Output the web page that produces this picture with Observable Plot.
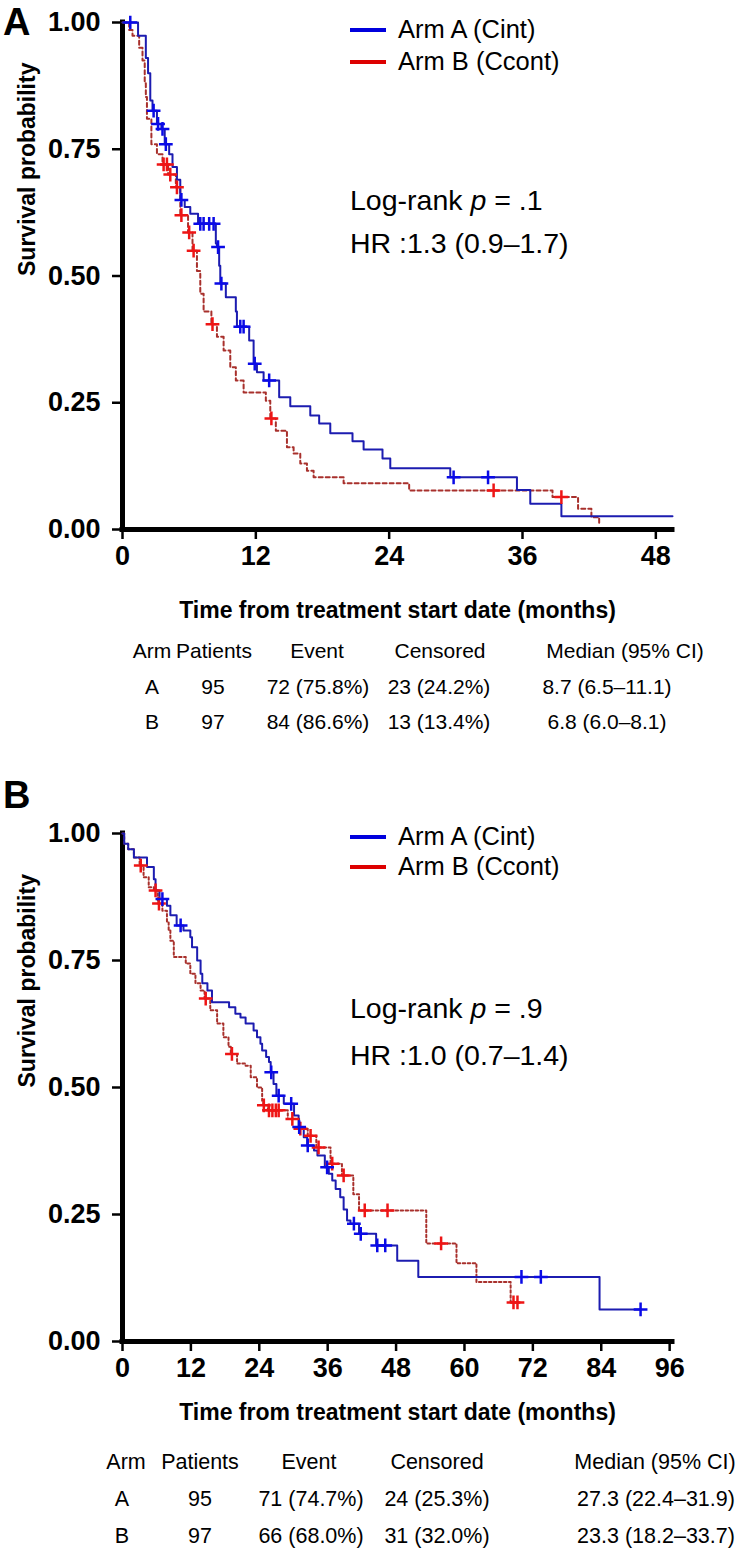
<!DOCTYPE html>
<html><head><meta charset="utf-8">
<script src="https://cdn.jsdelivr.net/npm/d3@7"></script>
<script src="https://cdn.jsdelivr.net/npm/@observablehq/plot@0.6"></script>
<style>
body{margin:0;background:#fff;font-family:"Liberation Sans",Arial,Helvetica,sans-serif;}
#root{position:relative;width:747px;height:1551px;overflow:hidden;background:#fff;}
.abs{position:absolute;white-space:nowrap;}
.letter{font-weight:bold;font-size:38px;line-height:1.1;}
.cell{transform:translate(-50%,-50%);line-height:1;}
.leg{font-size:25.5px;line-height:1;transform:translateY(-50%);}
.sw{position:absolute;height:4px;transform:translateY(-50%);}
.stat{font-size:28.5px;line-height:1;transform:translateY(-50%);}
</style></head><body><div id="root"></div>
<script>
// ---------- data ----------
const yTicks = [0, 0.25, 0.5, 0.75, 1];
const xTicksA = [0, 12, 24, 36, 48];
const xTicksB = [0, 12, 24, 36, 48, 60, 72, 84, 96];
const armNames = ["Arm A (Cint)", "Arm B (Ccont)"];

// Panel A (48 months)
const tA_armA = [0,1.4,2.1,2.3,2.5,2.7,3.1,3.5,3.8,4.2,4.5,4.9,5.2,5.6,6.1,6.8,8.4,8.5,8.7,8.8,9.3,10.2,10.3,11.4,11.8,12.1,12.7,14.1,15.1,16.9,17.7,18.7,20.7,21.7,23.4,24.1,29.5,35.5,36.7,39.5,49.5];
const sA_armA = [1,0.974,0.93,0.90,0.846,0.826,0.80,0.79,0.76,0.74,0.715,0.69,0.65,0.636,0.623,0.603,0.564,0.557,0.52,0.485,0.458,0.43,0.40,0.373,0.327,0.31,0.294,0.261,0.243,0.225,0.209,0.19,0.174,0.158,0.14,0.121,0.103,0.078,0.051,0.026,0.026];
const cA_armA = [0.7,2.8,3.2,3.6,3.9,5.3,7.0,7.3,7.8,8.2,8.6,8.9,10.6,10.9,11.9,13.2,29.8,32.9];

const tA_armB = [0,0.6,0.9,1.5,1.8,2.0,2.1,2.2,2.6,3.1,3.6,4.1,4.8,5.2,5.9,6.3,6.7,7.0,7.3,8.0,8.5,9.1,9.7,10.2,10.9,12.9,13.3,13.8,14.8,15.4,16.0,16.6,17.2,19.9,25.8,38.7,41.0,42.2,42.9,43.0];
const sA_armB = [1,0.985,0.974,0.95,0.925,0.88,0.853,0.81,0.76,0.74,0.72,0.70,0.675,0.62,0.586,0.55,0.51,0.465,0.43,0.405,0.38,0.353,0.32,0.294,0.27,0.254,0.219,0.195,0.162,0.15,0.13,0.116,0.103,0.091,0.077,0.064,0.041,0.024,0.012,0.012];
const cA_armB = [3.7,4.0,4.3,4.9,5.3,6.0,6.4,8.1,13.4,33.4,39.5];

// Panel B (96 months)
const tB_armA = [0,0.3,1.0,2.0,4.3,5.5,5.8,6.5,7.8,8.4,9.5,10.7,11.9,12.2,13.1,13.7,14.0,14.9,15.7,18.7,19.8,20.7,21.6,23.0,23.6,24.2,24.5,25.2,25.7,26.0,26.5,27.0,28.3,30.1,30.9,31.8,32.4,33.6,34.2,35.5,36.2,36.8,37.4,38.2,38.8,39.4,40.0,41.5,44.5,48.2,51.9,83.7,90.9];
const sB_armA = [1,0.98,0.969,0.953,0.934,0.91,0.888,0.871,0.858,0.839,0.819,0.809,0.796,0.776,0.75,0.724,0.705,0.691,0.668,0.658,0.645,0.638,0.626,0.612,0.599,0.586,0.573,0.56,0.55,0.53,0.507,0.484,0.468,0.445,0.422,0.402,0.386,0.376,0.366,0.343,0.33,0.317,0.30,0.284,0.26,0.238,0.232,0.212,0.189,0.159,0.127,0.063,0.063];
const cB_armA = [7.0,10.2,26.1,27.4,29.6,31.0,32.5,35.9,40.6,41.8,44.7,46.1,70.0,73.4,90.9];

const tB_armB = [0,0.3,1.0,2.0,3.0,3.7,4.6,5.5,6.2,7.0,7.8,8.1,8.4,9.0,11.1,11.9,12.8,13.7,14.4,15.4,16.6,17.7,18.6,19.0,20.1,21.6,22.5,23.6,24.5,24.7,25.5,29.0,31.0,32.5,34.0,36.5,38.5,40.5,41.5,53.3,58.6,62.1,68.1,69.3];
const sB_armB = [1,0.98,0.969,0.953,0.937,0.914,0.894,0.888,0.862,0.848,0.825,0.809,0.789,0.757,0.744,0.724,0.705,0.691,0.675,0.652,0.626,0.599,0.58,0.566,0.547,0.543,0.52,0.50,0.474,0.465,0.455,0.438,0.419,0.405,0.382,0.35,0.327,0.29,0.258,0.193,0.154,0.117,0.077,0.077];
const cB_armB = [3.2,5.8,6.4,14.6,19.2,24.8,25.7,26.3,26.9,27.4,29.8,31.2,33.0,34.4,36.8,38.8,42.5,46.5,55.9,68.6,69.3];

// stats and tables
const statsA = ["Log-rank ", "p", " = .1", "HR :1.3 (0.9–1.7)"];
const statsB = ["Log-rank ", "p", " = .9", "HR :1.0 (0.7–1.4)"];
const tableHeader = ["Arm","Patients","Event","Censored","Median (95% CI)"];
const tableA = [["A","95","72 (75.8%)","23 (24.2%)","8.7 (6.5–11.1)"],["B","97","84 (86.6%)","13 (13.4%)","6.8 (6.0–8.1)"]];
const tableB = [["A","95","71 (74.7%)","24 (25.3%)","27.3 (22.4–31.9)"],["B","97","66 (68.0%)","31 (32.0%)","23.3 (18.2–33.7)"]];

// ---------- drawing ----------
const FONT = '"Liberation Sans", Arial, Helvetica, sans-serif';
const BLUE = "#1c1cb0", BLUE_M = "#0a0ae6", RED = "#a8302c", RED_M = "#ee1515";
const root = document.getElementById("root");

function series(ts, ss){ return ts.map((t,i)=>({t, s: ss[i]})); }
function censors(ts, ss, cs){
  return cs.map(c => { const i = Math.max(0, d3.bisectRight(ts, c) - 1); return {t: c, s: ss[i]}; });
}
function el(tag, cls, txt, style){
  const e = document.createElement(tag); if (cls) e.className = cls;
  if (txt != null) e.textContent = txt; Object.assign(e.style, style || {}); root.appendChild(e); return e;
}

function panel(cfg){
  const svg = Plot.plot({
    width: 747, height: cfg.height,
    marginLeft: 122, marginRight: 75, marginTop: cfg.mt, marginBottom: cfg.mb,
    style: {fontFamily: FONT, background: "transparent", color: "black", overflow: "visible"},
    x: {domain: [0, cfg.xmax]},
    y: {domain: [0, 1]},
    marks: [
      Plot.axisY(yTicks, {tickSize: 10, tickPadding: 12, fontSize: 27, fontWeight: "bold", tickFormat: d3.format(".2f"), strokeWidth: 2.5, label: null}),
      Plot.axisX(cfg.xticks, {tickSize: 10, tickPadding: 6, fontSize: 27, fontWeight: "bold", strokeWidth: 2.5, label: null}),
      Plot.text(["Survival probability"], {frameAnchor: "left", dx: -95, rotate: -90, fontSize: 23, fontWeight: "bold"}),
      Plot.text(["Time from treatment start date (months)"], {frameAnchor: "bottom", dy: cfg.titleDy, fontSize: 23, fontWeight: "bold"}),
      Plot.ruleX([0], {y1: 0, y2: 1, strokeWidth: 5, strokeLinecap: "square"}),
      Plot.ruleY([0], {x1: 0, x2: cfg.xmax, strokeWidth: 5, strokeLinecap: "square"}),
      Plot.line(series(cfg.tB, cfg.sB), {x: "t", y: "s", curve: "step-after", stroke: RED, strokeWidth: 2, strokeDasharray: cfg.dash}),
      Plot.line(series(cfg.tA, cfg.sA), {x: "t", y: "s", curve: "step-after", stroke: BLUE, strokeWidth: 2}),
      Plot.dot(censors(cfg.tB, cfg.sB, cfg.cB), {x: "t", y: "s", symbol: "plus", r: 4.5, stroke: RED_M, strokeWidth: 2.5}),
      Plot.dot(censors(cfg.tA, cfg.sA, cfg.cA), {x: "t", y: "s", symbol: "plus", r: 4.5, stroke: BLUE_M, strokeWidth: 2.5})
    ]
  });
  svg.style.position = "absolute"; svg.style.left = "0px"; svg.style.top = cfg.top + "px";
  root.appendChild(svg);

  // panel letter
  el("div", "abs letter", cfg.letter, {left: "3px", top: cfg.letterTop + "px"});
  // legend
  [["#0000dd", armNames[0], cfg.legY[0]], ["#dd0000", armNames[1], cfg.legY[1]]].forEach(([c, name, y]) => {
    el("div", "sw", null, {left: "350px", width: "36px", top: y + "px", background: c});
    el("div", "abs leg", name, {left: "398px", top: y + "px"});
  });
  // stats
  const s1 = el("div", "abs stat", null, {left: "350px", top: cfg.statY[0] + "px"});
  s1.append(cfg.stats[0]); const it = document.createElement("i"); it.textContent = cfg.stats[1]; s1.append(it); s1.append(cfg.stats[2]);
  el("div", "abs stat", cfg.stats[3], {left: "350px", top: cfg.statY[1] + "px"});
  // table
  tableHeader.forEach((h, j) => el("div", "abs cell", h, {left: cfg.hdrX[j] + "px", top: cfg.rowY[0] + "px", fontSize: cfg.tfs + "px"}));
  cfg.rows.forEach((row, i) => row.forEach((v, j) =>
    el("div", "abs cell", v, {left: cfg.valX[j] + "px", top: cfg.rowY[i + 1] + "px", fontSize: cfg.tfs + "px"})));
}

panel({letter: "A", letterTop: 2, top: 0, height: 630, mt: 22, mb: 101, titleDy: 88, xmax: 49.5, xticks: xTicksA,
  tA: tA_armA, sA: sA_armA, cA: cA_armA, tB: tA_armB, sB: sA_armB, cB: cA_armB, dash: "4,3",
  legY: [30, 62], stats: statsA, statY: [200, 243], tfs: 21,
  hdrX: [152, 214, 317, 440, 625], valX: [152, 213, 318, 439, 607], rowY: [650, 686, 721], rows: tableA});

panel({letter: "B", letterTop: 775, top: 780, height: 652, mt: 53, mb: 91, titleDy: 78, xmax: 96.5, xticks: xTicksB,
  tA: tB_armA, sA: sB_armA, cA: cB_armA, tB: tB_armB, sB: sB_armB, cB: cB_armB, dash: "2.5,2.5",
  legY: [837, 867], stats: statsB, statY: [1008, 1055], tfs: 21.5,
  hdrX: [126, 200, 309, 437, 655], valX: [122, 200, 311, 437, 656], rowY: [1463, 1500, 1537], rows: tableB});
</script></body></html>
